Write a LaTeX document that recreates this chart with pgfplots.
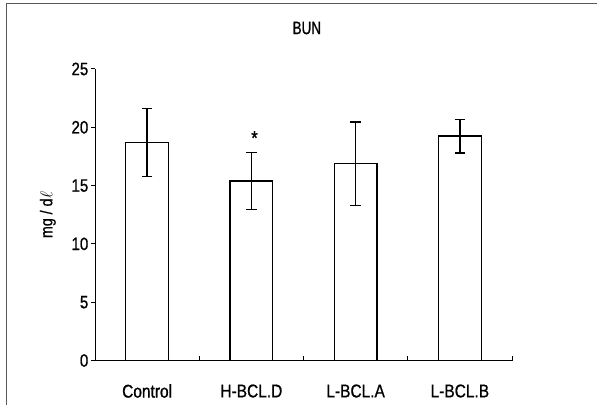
\documentclass[border=0pt]{standalone}
\usepackage{fontspec}
\setmainfont{Liberation Sans}[FakeStretch=0.84, FakeBold=0.8]
\newfontfamily\titlefont{Liberation Sans}[FakeStretch=0.75, FakeBold=0.8]
\usepackage{pgfplots}
\pgfplotsset{compat=1.18}
\begin{document}
\begin{tikzpicture}
\path[use as bounding box] (0bp,0bp) rectangle (597bp,405bp);
\draw[black!65, line width=1bp] (6bp,-10bp) -- (6bp,401bp) -- (610bp,401bp);
\begin{axis}[
  at={(95bp,44.5bp)}, anchor=south west,
  scale only axis, width=417bp, height=291.5bp,
  xmin=-0.5, xmax=3.5, ymin=0, ymax=25,
  axis x line=bottom, axis y line=left,
  axis line style={-, line width=1bp, black},
  tick align=inside, major tick length=4bp,
  tick style={line width=1bp, black},
  xtick={-0.5,0.5,1.5,2.5,3.5}, xticklabels={,,,,},
  extra x ticks={0,1,2,3},
  extra x tick labels={Control,H-BCL.D,L-BCL.A,L-BCL.B},
  extra x tick style={major tick length=0pt},
  xticklabel style={anchor=center, yshift=-30.5bp, font=\fontsize{18.5}{20}\selectfont},
  ytick=\empty,
  extra y ticks={0,5,10,15,20,25},
  extra y tick style={tick align=outside},
  yticklabel style={font=\fontsize{18}{20}\selectfont, inner sep=2.5bp},
  /pgf/number format/assume math mode=true,
  title={BUN},
  title style={at={(axis description cs:0.508,1)}, anchor=center, yshift=35bp, font=\titlefont\fontsize{18}{20}\selectfont},
  ylabel={mg / d$\ell$},
  ylabel style={at={(axis description cs:-0.113,0.5)}, anchor=center, font=\fontsize{17}{19}\selectfont},
  clip=false,
]
\addplot[ybar, bar width=0.41, bar shift=0pt, fill=white, draw=black, line width=1.4bp,
  error bars/.cd, y dir=both, y explicit,
  error bar style={line width=1.4bp, black},
  error mark options={rotate=90, mark size=5.3bp, line width=1.4bp, black}]
  coordinates {
    (0,18.7) +- (0,2.9)
    (1,15.4) +- (0,2.44)
    (2,16.87) +- (0,3.58)
    (3,19.24) +- (0,1.43)
  };
\node[font=\fontsize{20}{22}\selectfont, anchor=center, yshift=-4.5bp] at (axis cs:1.03,19.47) {*};
\end{axis}
\end{tikzpicture}
\end{document}
